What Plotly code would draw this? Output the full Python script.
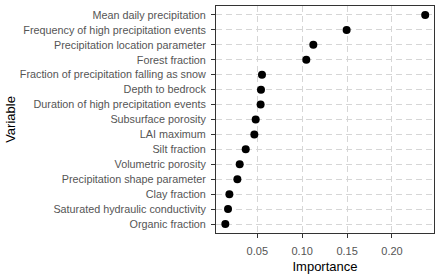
import plotly.graph_objects as go

variables = [
    "Mean daily precipitation",
    "Frequency of high precipitation events",
    "Precipitation location parameter",
    "Forest fraction",
    "Fraction of precipitation falling as snow",
    "Depth to bedrock",
    "Duration of high precipitation events",
    "Subsurface porosity",
    "LAI maximum",
    "Silt fraction",
    "Volumetric porosity",
    "Precipitation shape parameter",
    "Clay fraction",
    "Saturated hydraulic conductivity",
    "Organic fraction",
]
importance = [0.237, 0.1495, 0.1124, 0.1046, 0.0552, 0.0541, 0.0537, 0.0482,
              0.0467, 0.0371, 0.0304, 0.0278, 0.0189, 0.0174, 0.0144]
x_ticks = [0.05, 0.10, 0.15, 0.20]
x_tick_labels = ["0.05", "0.10", "0.15", "0.20"]

fig = go.Figure(go.Scatter(
    x=importance, y=variables, mode="markers",
    marker=dict(color="black", size=8),
    cliponaxis=False,
))

font = "Liberation Sans, Arial, sans-serif"
fig.update_layout(
    width=441, height=276,
    margin=dict(l=216, r=7, t=5, b=38),
    paper_bgcolor="white", plot_bgcolor="white",
    showlegend=False,
    font=dict(family=font, size=10.8, color="#555555"),
)
fig.update_xaxes(
    range=[0.004, 0.2468],
    tickvals=x_ticks, ticktext=x_tick_labels,
    ticks="outside", ticklen=4, tickcolor="#333333", tickwidth=1,
    ticklabelstandoff=4,
    showgrid=True, gridcolor="#d6d6d6", gridwidth=1, griddash="6px,4px",
    showline=True, linecolor="#333333", linewidth=1, mirror=True,
    zeroline=False,
    tickfont=dict(size=11, color="#555555"),
    title=dict(text="Importance", font=dict(size=13, color="black"), standoff=5),
)
fig.update_yaxes(
    categoryorder="array", categoryarray=variables[::-1],
    range=[-0.6, len(variables) - 0.4],
    ticks="outside", ticklen=4, tickcolor="#333333", tickwidth=1,
    ticklabelstandoff=3,
    showgrid=True, gridcolor="#d6d6d6", gridwidth=1, griddash="6px,4px",
    showline=True, linecolor="#333333", linewidth=1, mirror=True,
    zeroline=False,
    tickfont=dict(size=10.8, color="#555555"),
    title=dict(text="Variable", font=dict(size=13, color="black"), standoff=1),
)

fig.write_html("out.html")
